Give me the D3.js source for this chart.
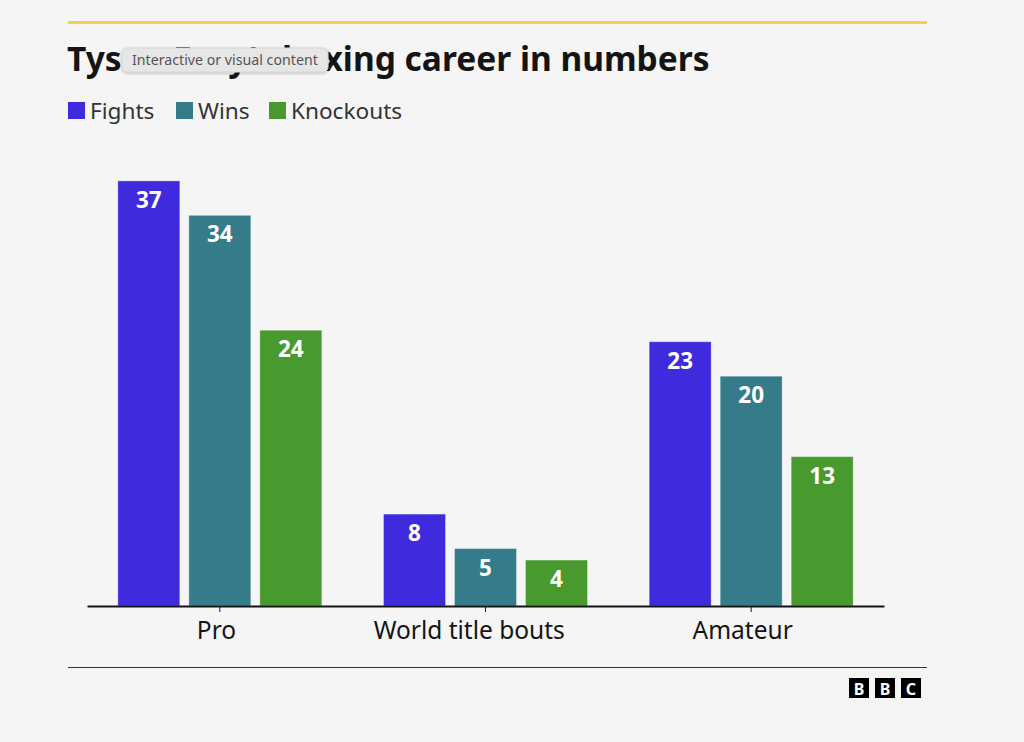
<!DOCTYPE html>
<html>
<head>
<meta charset="utf-8">
<title>Tyson Fury's boxing career in numbers</title>
<script src="https://cdn.jsdelivr.net/npm/d3@7"></script>
<style>
  body { margin: 0; background: #f5f5f5; }
  text { font-family: "Noto Sans", "Open Sans", sans-serif; }
</style>
</head>
<body>
<div class="chart-area"></div>
<script>
var categories = ["Pro", "World title bouts", "Amateur"];
var seriesNames = ["Fights", "Wins", "Knockouts"];
var fights = [37, 8, 23];
var wins = [34, 5, 20];
var knockouts = [24, 4, 13];
var colors = ["#3f2bdd", "#367b8a", "#489a2e"];

var seriesValues = [fights, wins, knockouts];
var data = categories.map(function(c, i) {
    return { cat: c, vals: seriesNames.map(function(s, j) { return { key: s, value: seriesValues[j][i] }; }) };
});

var W = 1024, H = 742;
var svg = d3.select(".chart-area").append("svg")
    .attr("width", W).attr("height", H);

svg.append("rect").attr("width", W).attr("height", H).attr("fill", "#f5f5f5");

// top accent line
svg.append("rect").attr("x", 68).attr("y", 21).attr("width", 859).attr("height", 3).attr("fill", "#f5d04f");

svg.append("text")
    .attr("x", 67).attr("y", 71)
    .attr("font-size", "33.5px").attr("font-weight", "bold").attr("fill", "#141414")
    .text("Tyson Fury's boxing career in numbers");

// legend
var legend = svg.append("g").attr("transform", "translate(68,102)");
var legendX = [0, 108, 201];
seriesNames.forEach(function(s, i) {
    var g = legend.append("g").attr("transform", "translate(" + legendX[i] + ",0)");
    g.append("rect").attr("width", 17).attr("height", 17).attr("fill", colors[i]);
    g.append("text").attr("x", 22).attr("y", 16.5).attr("font-size", "22.6px").attr("fill", "#333")
        .text(s);
});

// scales
var baseY = 606;
var x0 = d3.scaleBand().domain(categories).range([87, 884]);
var x1 = d3.scaleBand().domain(seriesNames).range([0, 204]).paddingInner(0.127);
var y = d3.scaleLinear().domain([0, 40]).range([baseY, baseY - 459.6]);

var groups = svg.selectAll(".grp").data(data).enter().append("g")
    .attr("class", "grp")
    .attr("transform", function(d) { return "translate(" + (x0(d.cat) + x0.bandwidth() / 2 - 102) + ",0)"; });

groups.selectAll("rect").data(function(d) { return d.vals; }).enter().append("rect")
    .attr("x", function(d) { return x1(d.key); })
    .attr("y", function(d) { return y(d.value); })
    .attr("width", x1.bandwidth())
    .attr("height", function(d) { return baseY - y(d.value); })
    .attr("fill", function(d, i) { return colors[i]; })
    .attr("stroke", "rgba(255,255,255,0.35)")
    .attr("stroke-width", 1);

groups.selectAll(".lbl").data(function(d) { return d.vals; }).enter().append("text")
    .attr("class", "lbl")
    .attr("x", function(d) { return x1(d.key) + x1.bandwidth() / 2; })
    .attr("y", function(d) { return y(d.value) + 27; })
    .attr("text-anchor", "middle")
    .attr("font-size", "22.5px").attr("font-weight", "bold").attr("fill", "#fff")
    .text(function(d) { return d.value; });

// x axis
var xAxis = svg.append("g")
    .attr("transform", "translate(0," + baseY + ")")
    .call(d3.axisBottom(x0).tickSize(6).tickSizeOuter(0).tickPadding(10));
xAxis.select(".domain").attr("stroke", "#141414").attr("stroke-width", 2);
xAxis.selectAll(".tick line").attr("stroke", "#141414");
xAxis.selectAll(".tick text")
    .attr("font-size", "24.5px").attr("fill", "#141414")
    .attr("font-family", "Noto Sans, Open Sans, sans-serif")
    .attr("dx", function() { return -0.085 * this.getComputedTextLength(); });

// footer
svg.append("rect").attr("x", 68).attr("y", 667).attr("width", 859).attr("height", 1).attr("fill", "#333");
var bbc = svg.append("g").attr("transform", "translate(849,678)");
["B", "B", "C"].forEach(function(l, i) {
    bbc.append("rect").attr("x", i * 26).attr("width", 20).attr("height", 20).attr("fill", "#000");
    bbc.append("text").attr("x", i * 26 + 10).attr("y", 16.5).attr("text-anchor", "middle")
        .attr("font-size", "16px").attr("font-weight", "bold").attr("fill", "#fff").text(l);
});

// tooltip overlay
var defs = svg.append("defs");
var f = defs.append("filter").attr("id", "shadow").attr("x", "-10%").attr("y", "-30%").attr("width", "120%").attr("height", "160%");
f.append("feDropShadow").attr("dx", 0).attr("dy", 1).attr("stdDeviation", 1.5).attr("flood-color", "#000").attr("flood-opacity", 0.25);
var tip = svg.append("g").attr("transform", "translate(122,48)");
tip.append("rect").attr("width", 206).attr("height", 24).attr("rx", 5)
    .attr("fill", "#e6e6e6").attr("stroke", "#d6d6d6").attr("filter", "url(#shadow)");
tip.append("text").attr("x", 10).attr("y", 17).attr("font-size", "14.2px").attr("fill", "#555")
    .text("Interactive or visual content");
</script>
</body>
</html>
